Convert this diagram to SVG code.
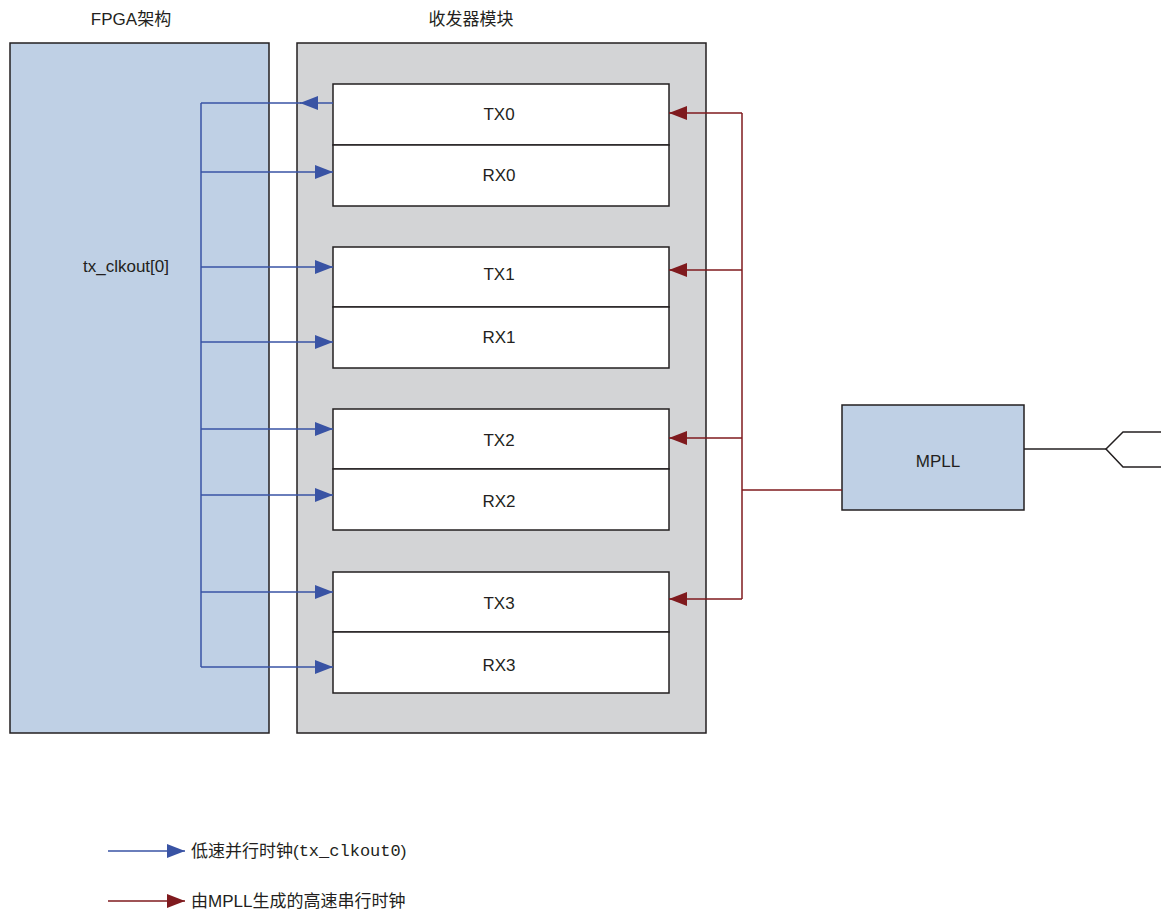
<svg xmlns="http://www.w3.org/2000/svg" width="1161" height="911" viewBox="0 0 1161 911">
<defs>
<style>
.t{font-family:"Liberation Sans","Noto Sans CJK SC",sans-serif;font-size:17px;fill:#231f20;text-anchor:middle;dominant-baseline:central}
.lg{font-family:"Liberation Sans","Noto Sans CJK SC",sans-serif;font-size:17px;fill:#231f20;dominant-baseline:central}
.mono{font-family:"Liberation Mono",monospace}
.box{fill:#ffffff;stroke:#231f20;stroke-width:1.5}
.blue{stroke:#3953a4;stroke-width:1.5;fill:none}
.red{stroke:#7f1a1e;stroke-width:1.5;fill:none}
</style>
<marker id="ab" markerWidth="18" markerHeight="14" refX="18" refY="7" orient="auto" markerUnits="userSpaceOnUse"><path d="M0,0 L18,7 L0,14 Z" fill="#3953a4"/></marker>
<marker id="ar" markerWidth="18" markerHeight="14" refX="18" refY="7" orient="auto" markerUnits="userSpaceOnUse"><path d="M0,0 L18,7 L0,14 Z" fill="#7f1a1e"/></marker>
</defs>
<rect width="1161" height="911" fill="#ffffff"/>
<g id="fpga">
<rect x="10" y="43" width="259" height="690" fill="#bfd0e5" stroke="#231f20" stroke-width="1.5"/>
<text class="t" x="131" y="19">FPGA架构</text>
<text class="t" x="126" y="266">tx_clkout[0]</text>
</g>
<g id="transceiver">
<rect x="297" y="43" width="409" height="690" fill="#d3d4d6" stroke="#231f20" stroke-width="1.5"/>
<text class="t" x="471" y="19">收发器模块</text>
</g>
<g id="tx0"><rect class="box" x="333" y="84" width="336" height="61"/><text class="t" x="499" y="114">TX0</text></g>
<g id="rx0"><rect class="box" x="333" y="145" width="336" height="61"/><text class="t" x="499" y="175">RX0</text></g>
<g id="tx1"><rect class="box" x="333" y="247" width="336" height="60"/><text class="t" x="499" y="274">TX1</text></g>
<g id="rx1"><rect class="box" x="333" y="307" width="336" height="61"/><text class="t" x="499" y="337">RX1</text></g>
<g id="tx2"><rect class="box" x="333" y="409" width="336" height="60"/><text class="t" x="499" y="440">TX2</text></g>
<g id="rx2"><rect class="box" x="333" y="469" width="336" height="61"/><text class="t" x="499" y="501">RX2</text></g>
<g id="tx3"><rect class="box" x="333" y="572" width="336" height="60"/><text class="t" x="499" y="603">TX3</text></g>
<g id="rx3"><rect class="box" x="333" y="632" width="336" height="61"/><text class="t" x="499" y="665">RX3</text></g>
<g id="mpll">
<rect x="842" y="405" width="182" height="105" fill="#bfd0e5" stroke="#231f20" stroke-width="1.5"/>
<text class="t" x="938" y="461">MPLL</text>
</g>
<g id="port">
<path d="M1161,432 L1123,432 L1106,449 L1123,467 L1161,467" fill="#ffffff" stroke="#231f20" stroke-width="1.5"/>
</g>
<g id="connectors">
<line x1="201" y1="103" x2="201" y2="667" class="blue"/>
<line x1="333" y1="103" x2="300" y2="103" class="blue" marker-end="url(#ab)"/>
<line x1="201" y1="103" x2="301" y2="103" class="blue"/>
<line x1="201" y1="172" x2="333" y2="172" class="blue" marker-end="url(#ab)"/>
<line x1="201" y1="267" x2="333" y2="267" class="blue" marker-end="url(#ab)"/>
<line x1="201" y1="342" x2="333" y2="342" class="blue" marker-end="url(#ab)"/>
<line x1="201" y1="429" x2="333" y2="429" class="blue" marker-end="url(#ab)"/>
<line x1="201" y1="495" x2="333" y2="495" class="blue" marker-end="url(#ab)"/>
<line x1="201" y1="592" x2="333" y2="592" class="blue" marker-end="url(#ab)"/>
<line x1="201" y1="667" x2="333" y2="667" class="blue" marker-end="url(#ab)"/>
<line x1="742" y1="113" x2="742" y2="599" class="red"/>
<line x1="742" y1="113" x2="669" y2="113" class="red" marker-end="url(#ar)"/>
<line x1="742" y1="270" x2="669" y2="270" class="red" marker-end="url(#ar)"/>
<line x1="742" y1="438" x2="669" y2="438" class="red" marker-end="url(#ar)"/>
<line x1="742" y1="599" x2="669" y2="599" class="red" marker-end="url(#ar)"/>
<line x1="742" y1="490" x2="842" y2="490" class="red"/>
<line x1="1024" y1="449" x2="1106" y2="449" stroke="#231f20" stroke-width="1.5"/>
</g>
<g id="legend">
<line x1="108" y1="851" x2="185" y2="851" class="blue" marker-end="url(#ab)"/>
<text class="lg" x="191" y="851">低速并行时钟(<tspan class="mono">tx_clkout0</tspan>)</text>
<line x1="108" y1="901" x2="185" y2="901" class="red" marker-end="url(#ar)"/>
<text class="lg" x="191" y="901">由MPLL生成的高速串行时钟</text>
</g>
</svg>
